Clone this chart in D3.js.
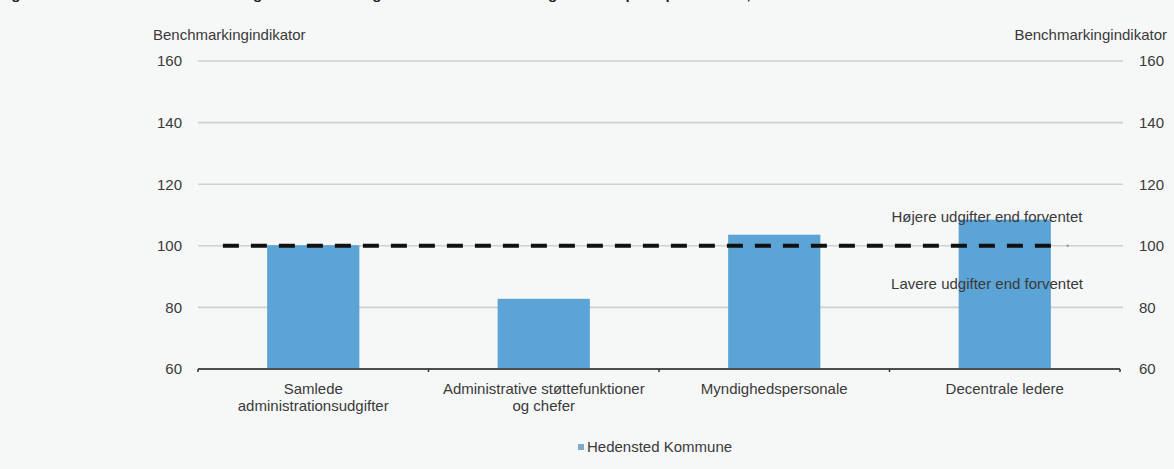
<!DOCTYPE html>
<html><head><meta charset="utf-8">
<script src="https://cdn.jsdelivr.net/npm/d3@7"></script>
<style>
html,body{margin:0;padding:0;background:#f6f7f7;}
svg{display:block;}
text{font-family:"Liberation Sans",Arial,sans-serif;fill:#3a3a3a;}
</style></head><body>
<svg id="c" width="1174" height="469"></svg>
<script>
const categories = [["Samlede","administrationsudgifter"],["Administrative støttefunktioner","og chefer"],["Myndighedspersonale"],["Decentrale ledere"]];
const values = [100.2, 82.8, 103.6, 108.5];
const yTicks = [60, 80, 100, 120, 140, 160];
const refValue = 100;
const refSpan = [0.027, 0.927];
const seriesName = "Hedensted Kommune";
const axisTitle = "Benchmarkingindikator";
const aboveLabel = "Højere udgifter end forventet";
const belowLabel = "Lavere udgifter end forventet";
const titleText = "Figur 3.2 Kommunens benchmarkingindikator for udgifter til administration og ledelse opdelt på områder, 2023";

const svg = d3.select("#c");
const L = 198, R = 1120, T = 61, B = 369;
const ids = categories.map((d,i)=>i);
const x = d3.scaleBand().domain(ids).range([L,R]).padding(0);
const y = d3.scaleLinear().domain([60,160]).range([B,T]);
const xr = d3.scaleLinear().domain([0,1]).range([L,R]);
const fs = 15;

// title (clipped at top, as in the reference)
svg.append("text").attr("x",-2).attr("y",-1).attr("font-size",15).attr("font-weight","bold")
  .style("fill","#222").text(titleText);

// gridlines
svg.append("g").selectAll("line").data(yTicks.filter(t=>t>60)).join("line")
  .attr("x1",L).attr("x2",R+3).attr("y1",d=>y(d)).attr("y2",d=>y(d))
  .attr("stroke","#cfd0d0").attr("stroke-width",1.6);

// axis labels
const yl = d3.axisLeft(y).tickValues(yTicks).tickSize(0).tickPadding(16);
const gl = svg.append("g").attr("transform",`translate(${L},0)`).call(yl);
gl.select(".domain").remove();
gl.selectAll("text").attr("font-size",fs).style("fill","#3a3a3a").attr("font-family",null);
const yr = d3.axisRight(y).tickValues(yTicks).tickSize(0).tickPadding(19);
const gr = svg.append("g").attr("transform",`translate(${R},0)`).call(yr);
gr.select(".domain").remove();
gr.selectAll("text").attr("font-size",fs).style("fill","#3a3a3a").attr("font-family",null);

// axis titles
svg.append("text").attr("x",153).attr("y",40).attr("font-size",fs).text(axisTitle);
svg.append("text").attr("x",1167).attr("y",40).attr("font-size",fs).attr("text-anchor","end").text(axisTitle);

// bars
const bw = x.bandwidth()*0.4;
svg.append("g").selectAll("rect").data(values).join("rect")
  .attr("x",(d,i)=>x(i)+x.bandwidth()/2-bw/2).attr("width",bw)
  .attr("y",d=>y(d)).attr("height",d=>B-y(d))
  .attr("fill","#5ba4d5");

// x axis
const xa = d3.axisBottom(x).tickSize(0).tickFormat("");
const gx = svg.append("g").attr("transform",`translate(0,${B})`).call(xa);
gx.select(".domain").attr("stroke","#4d4d4d").attr("stroke-width",2).attr("d",`M${L},0H${R}`);
svg.append("g").selectAll("line").data(ids.concat([ids.length])).join("line")
  .attr("x1",d=>d<ids.length?x(d):R).attr("x2",d=>d<ids.length?x(d):R)
  .attr("y1",B).attr("y2",B+3).attr("stroke","#333").attr("stroke-width",1.5);

// category labels
const cl = svg.append("g").selectAll("text").data(categories).join("text")
  .attr("x",(d,i)=>x(i)+x.bandwidth()/2).attr("y",394).attr("text-anchor","middle").attr("font-size",fs);
cl.selectAll("tspan").data(d=>d).join("tspan")
  .attr("x",function(){return this.parentNode.getAttribute("x");})
  .attr("dy",(d,i)=>i?17:0).text(d=>d);

// reference dashed line
svg.append("line").attr("x1",xr(refSpan[0])).attr("x2",xr(refSpan[1]))
  .attr("y1",y(refValue)).attr("y2",y(refValue))
  .attr("stroke","#111").attr("stroke-width",4).attr("stroke-dasharray","16,12");
svg.append("circle").attr("cx",xr(refSpan[1])+15).attr("cy",y(refValue)).attr("r",1.2).attr("fill","#999");

// annotations
svg.append("text").attr("x",987).attr("y",y(refValue)-24).attr("text-anchor","middle").attr("font-size",fs).text(aboveLabel);
svg.append("text").attr("x",987).attr("y",y(refValue)+43).attr("text-anchor","middle").attr("font-size",fs).text(belowLabel);

// legend
svg.append("rect").attr("x",578).attr("y",444).attr("width",6).attr("height",6).attr("fill","#7fa9c6");
svg.append("text").attr("x",587).attr("y",452).attr("font-size",fs).text(seriesName);
</script>
</body></html>
